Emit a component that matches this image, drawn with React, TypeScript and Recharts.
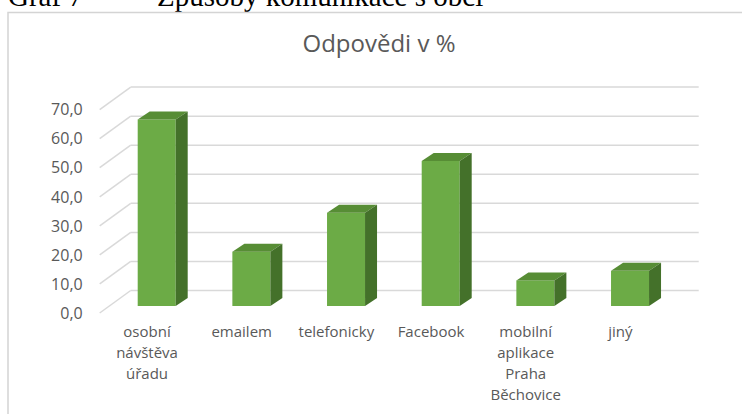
import React from 'react';
import { BarChart, Bar, XAxis, YAxis, CartesianGrid } from 'recharts';

const categories = ['osobní návštěva úřadu', 'emailem', 'telefonicky', 'Facebook', 'mobilní aplikace Praha Běchovice', 'jiný'];
const categoryLines = [['osobní', 'návštěva', 'úřadu'], ['emailem'], ['telefonicky'], ['Facebook'], ['mobilní', 'aplikace', 'Praha', 'Běchovice'], ['jiný']];
const values = [64.2, 18.7, 32.1, 49.9, 8.8, 12.1];
const yTicks = [0, 10, 20, 30, 40, 50, 60, 70];

const data = categories.map((name, i) => ({ name, lines: categoryLines[i], value: values[i] }));

// 3D look: front plane (labels) and back wall offsets from the bar plane
const FRONT_DX = -10;
const FRONT_DY = 7;
const BACK_DX = 21;
const BACK_DY = -15.5;
const DEPTH_DX = 12;
const DEPTH_DY = -8;

const GRID = '#d9d9d9';
const TEXT = '#595959';

const GridLine = (props: any) => {
    const { x1, x2, y1, index } = props;
    return (
        <g key={`grid-${index}`}>
            <line x1={x1 + FRONT_DX} y1={y1 + FRONT_DY} x2={x1 + BACK_DX} y2={y1 + BACK_DY} stroke={GRID} strokeWidth={1.5} />
            <line x1={x1 + BACK_DX} y1={y1 + BACK_DY} x2={x2 + BACK_DX} y2={y1 + BACK_DY} stroke={GRID} strokeWidth={1.5} />
        </g>
    );
};

const Box3D = (props: any) => {
    const { x, y, width, height } = props;
    if (!height) return null;
    const top = `${x},${y} ${x + DEPTH_DX},${y + DEPTH_DY} ${x + width + DEPTH_DX},${y + DEPTH_DY} ${x + width},${y}`;
    const side = `${x + width},${y} ${x + width + DEPTH_DX},${y + DEPTH_DY} ${x + width + DEPTH_DX},${y + height + DEPTH_DY} ${x + width},${y + height}`;
    return (
        <g>
            <rect x={x} y={y} width={width} height={height} fill="#6cab46" />
            <polygon points={top} fill="#578d35" />
            <polygon points={side} fill="#44712a" />
        </g>
    );
};

const YTick = ({ x, y, payload }: any) => (
    <text x={x} y={y + FRONT_DY} dy="0.36em" textAnchor="end" fill={TEXT} fontSize={16} fontFamily="Open Sans">
        {Number(payload.value).toFixed(1).replace('.', ',')}
    </text>
);

const XTick = ({ x, y, index }: any) => {
    const lines = data[index]?.lines ?? [];
    return (
        <text x={x + FRONT_DX} y={y} textAnchor="middle" fill={TEXT} fontSize={15} fontFamily="Open Sans">
            {lines.map((l: string, i: number) => (
                <tspan key={i} x={x + FRONT_DX} dy={i === 0 ? 31 : 21}>{l}</tspan>
            ))}
        </text>
    );
};

export default function App() {
    return (
        <div style={{ position: 'fixed', left: 0, top: 0, width: 742, height: 414, background: '#fff', overflow: 'hidden' }}>
            <svg width={742} height={414} style={{ position: 'absolute', left: 0, top: 0 }}>
                <text x={8} y={6} fontSize={29} fontFamily="Liberation Serif" fill="#000">Graf 7</text>
                <text x={157} y={6} fontSize={29} fontFamily="Liberation Serif" fill="#000">Způsoby komunikace s obcí</text>
                <rect x={8} y={12.5} width={760} height={420} fill="none" stroke="#d4d4d4" strokeWidth={1.5} />
                <text x={379} y={52} textAnchor="middle" fontSize={24} fontFamily="Open Sans" fill={TEXT}>Odpovědi v %</text>
            </svg>
            <div style={{ position: 'absolute', left: 0, top: 0 }}>
                <BarChart width={742} height={414} data={data} margin={{ top: 102.6, right: 64.3, bottom: 0, left: 9.7 }} barSize={38}>
                    <CartesianGrid vertical={false} horizontal={GridLine} />
                    <XAxis dataKey="name" interval={0} tickLine={false} axisLine={false} tickSize={0} tickMargin={0} height={108} tick={<XTick />} />
                    <YAxis domain={[0, 70]} ticks={yTicks} interval={0} width={100} tickLine={false} axisLine={false} tickSize={0} tickMargin={27} tick={<YTick />} />
                    <Bar dataKey="value" shape={<Box3D />} isAnimationActive={false} />
                </BarChart>
            </div>
        </div>
    );
}
